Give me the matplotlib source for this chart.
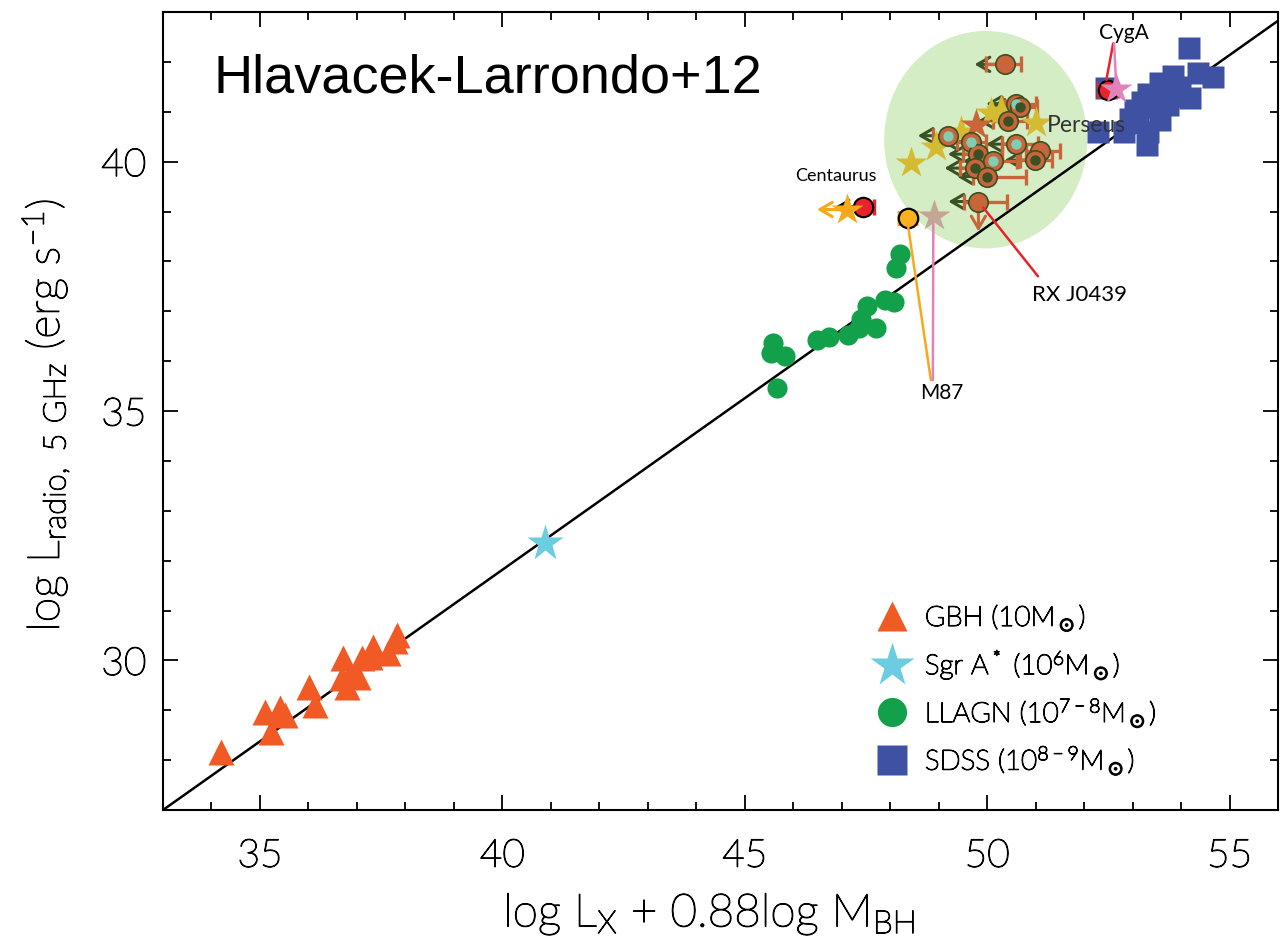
import matplotlib
matplotlib.use("Agg")
import matplotlib.pyplot as plt
import matplotlib.patheffects as pe
from matplotlib.patches import Ellipse
from matplotlib.lines import Line2D
from matplotlib.ticker import MultipleLocator
import numpy as np

plt.rcParams["font.family"] = ["Lato", "DejaVu Sans"]
plt.rcParams["mathtext.default"] = "regular"

# ---------------- data ----------------
# Galactic black holes (10 Msun)
gbh_x = [34.19, 35.10, 35.23, 35.41, 35.52, 36.01, 36.13, 36.72, 36.69, 36.79,
         36.86, 37.03, 37.10, 37.34, 37.27, 37.65, 37.82, 37.79]
gbh_y = [28.17, 28.97, 28.57, 29.04, 28.90, 29.46, 29.10, 30.04, 29.64, 29.47,
         29.71, 29.67, 30.04, 30.27, 30.07, 30.14, 30.51, 30.38]

# Sgr A*
sgra_x = [40.87]
sgra_y = [32.35]

# Low-luminosity AGN
llagn_x = [45.59, 45.54, 45.83, 45.66, 46.50, 46.74, 47.12, 47.36, 47.39, 47.53,
           47.71, 47.90, 48.07, 48.13, 48.20]
llagn_y = [36.36, 36.16, 36.10, 35.46, 36.42, 36.49, 36.52, 36.67, 36.85, 37.10,
           36.67, 37.23, 37.19, 37.86, 38.14]

# SDSS quasars
sdss_x = [52.28, 52.45, 52.83, 52.95, 53.04, 53.11, 53.29, 53.32, 53.32, 53.45,
          53.56, 53.56, 53.73, 53.83, 53.84, 53.97, 54.18, 54.17, 54.35, 54.66,
          53.20, 53.60]
sdss_y = [40.60, 41.47, 40.60, 40.85, 41.03, 40.77, 40.34, 41.36, 40.60, 41.10,
          40.83, 41.58, 41.13, 41.71, 41.31, 41.50, 41.28, 42.28, 41.78, 41.69,
          41.20, 41.40]

# Brightest cluster galaxies (Hlavacek-Larrondo+12)
bcg_x = [50.36, 50.60, 50.67, 50.43, 50.60, 51.10, 50.98, 49.67, 49.19, 49.81,
         50.12, 49.74, 50.00, 49.82]
bcg_y = [41.95, 41.16, 41.10, 40.82, 40.35, 40.22, 40.03, 40.40, 40.52, 40.15,
         40.01, 39.87, 39.70, 39.20]
bcg_core = ["solid", "teal", "dark", "dark", "teal", "solid", "dark", "teal",
            "teal", "dark", "teal", "dark", "dark", "solid"]
bcg_err_lo = [0.38, 0.30, 0.30, 0.30, 0.30, 0.30, 0.30, 0.30, 0.30, 0.30,
              0.30, 0.30, 0.30, 0.30]
bcg_err_hi = [0.34, 0.40, 0.35, 0.40, 0.45, 0.40, 0.35, 0.30, 0.30, 0.50,
              0.50, 0.40, 0.80, 0.58]
bcg_xlimit = [True, True, True, True, True, False, True, True, True, True,
              True, True, True, True]
bcg_ylimit = [False] * 13 + [True]

# Star symbols in the cluster sample
ystar_x = [48.43, 48.94, 49.46, 50.08, 51.01, 50.29]
ystar_y = [39.98, 40.30, 40.60, 40.97, 40.77, 41.02]
sstar_x = [49.77]
sstar_y = [40.74]

# Named sources
cen_circle = (47.43, 39.10)
cen_star = (47.11, 39.04)
m87_circle = (48.36, 38.87)
m87_star = (48.91, 38.90)
cyga_circle = (52.49, 41.44)
cyga_star = (52.66, 41.45)

# Fundamental-plane relation
fp_slope = 0.688
fp_intercept = 4.296

# ---------------- colours ----------------
c_gbh = "#F15A24"
c_sgra = "#6CCCE0"
c_llagn = "#13A04A"
c_sdss = "#3F51A3"
c_sienna = "#C8653A"
c_dkgreen = "#3A5124"
c_teal = "#7FCDB3"
c_gold = "#D4BC32"
c_orange = "#F7A81B"
c_red = "#E8232A"
c_pink = "#E083BA"
c_tan = "#C4A596"
c_blob = "#D5EDC5"

# thin geometric lettering, thickened slightly so strokes stay solid black
thin = dict(fontweight="light",
            path_effects=[pe.withStroke(linewidth=0.9, foreground="black")])

# ---------------- figure ----------------
fig = plt.figure(figsize=(12.85, 9.36), dpi=100)
ax = fig.add_axes([163 / 1285, 126 / 936, 1115 / 1285, 798 / 936])
ax.set_xlim(33, 56)
ax.set_ylim(27, 43)

ax.add_patch(Ellipse((49.97, 40.44), 4.19, 4.36, facecolor=c_blob,
                     edgecolor="none", zorder=1))

xx = np.array(ax.get_xlim())
ax.plot(xx, fp_slope * xx + fp_intercept, color="black", lw=1.8, zorder=2)

ax.plot(gbh_x, gbh_y, "^", ms=19, color=c_gbh, mec="none", zorder=3)
ax.plot(sgra_x, sgra_y, "*", ms=28, color=c_sgra, mec="none", zorder=3)
ax.plot(llagn_x, llagn_y, "o", ms=14.5, color=c_llagn, mec="none", zorder=3)
ax.plot(sdss_x, sdss_y, "s", ms=16, color=c_sdss, mec="none", zorder=3)

# cluster sample
head = "->,head_length=0.55,head_width=0.32"
arrow_len = 0.62
for x, y, lim, ylim_ in zip(bcg_x, bcg_y, bcg_xlimit, bcg_ylimit):
    if lim:
        ax.annotate("", xy=(x - arrow_len, y), xytext=(x, y),
                    arrowprops=dict(arrowstyle=head, mutation_scale=16,
                                    color=c_dkgreen, lw=2.2, shrinkA=0, shrinkB=0),
                    zorder=4)
    if ylim_:
        ax.annotate("", xy=(x, y - 0.6), xytext=(x, y),
                    arrowprops=dict(arrowstyle=head, mutation_scale=16,
                                    color=c_sienna, lw=2.2, shrinkA=0, shrinkB=0),
                    zorder=4)
ax.errorbar(bcg_x, bcg_y, xerr=[bcg_err_lo, bcg_err_hi], fmt="none",
            ecolor=c_sienna, elinewidth=2.4, capsize=6, capthick=2.4, zorder=4)

ax.plot(ystar_x, ystar_y, "*", ms=24, color=c_gold, mec="none", zorder=5)
ax.plot(sstar_x, sstar_y, "*", ms=24, color=c_sienna, mec="none", zorder=5)

ax.plot(bcg_x, bcg_y, "o", ms=14, mfc=c_sienna, mec=c_dkgreen, mew=1.2, zorder=6)
for x, y, core in zip(bcg_x, bcg_y, bcg_core):
    if core != "solid":
        ax.plot(x, y, "o", ms=7.5, mfc=c_teal if core == "teal" else c_dkgreen,
                mec="none", zorder=7)

# Centaurus
ax.annotate("", xy=(cen_star[0] - 0.62, cen_star[1]), xytext=cen_star,
            arrowprops=dict(arrowstyle=head, mutation_scale=16,
                            color=c_orange, lw=2.2, shrinkA=0, shrinkB=0), zorder=5)
ax.annotate("", xy=(cen_circle[0] - 0.55, cen_circle[1]), xytext=cen_circle,
            arrowprops=dict(arrowstyle=head, mutation_scale=14,
                            color="black", lw=1.8, shrinkA=0, shrinkB=0), zorder=5)
ax.errorbar([cen_circle[0]], [cen_circle[1]], xerr=[[0.0], [0.24]], fmt="none",
            ecolor=c_red, elinewidth=2.4, capsize=6, capthick=2.4, zorder=5)
ax.plot(*cen_circle, "o", ms=14, mfc=c_red, mec="black", mew=1.5, zorder=6)
ax.plot(*cen_star, "*", ms=24, color=c_orange, mec="none", zorder=7)

# M87
ax.errorbar([m87_circle[0]], [m87_circle[1]], xerr=[[0.21], [0.21]], fmt="none",
            ecolor=c_orange, elinewidth=11, capsize=0, zorder=5)
ax.plot(*m87_circle, "o", ms=14, mfc="#F9B11E", mec="black", mew=1.6, zorder=6)
ax.plot(*m87_star, "*", ms=24, color=c_tan, mec="none", zorder=6)

# Cygnus A
ax.errorbar([cyga_circle[0]], [cyga_circle[1]], xerr=[[0.21], [0.21]], fmt="none",
            ecolor=c_red, elinewidth=2.4, capsize=6, capthick=2.4, zorder=5)
ax.plot(*cyga_circle, "o", ms=14, mfc=c_red, mec="black", mew=1.5, zorder=6)
ax.plot(*cyga_star, "*", ms=24, color=c_pink, mec="none", zorder=7)


# labels with leader lines
def leader(p0, p1, color):
    ax.annotate("", xy=p1, xytext=p0,
                arrowprops=dict(arrowstyle="-", color=color, lw=1.8,
                                shrinkA=0, shrinkB=0), zorder=8)


ax.text(46.88, 39.71, "Centaurus", fontsize=13, ha="center", va="center", zorder=9)
ax.text(52.83, 42.57, "CygA", fontsize=15, ha="center", va="center", zorder=9)
leader((52.60, 42.37), (cyga_circle[0] - 0.03, cyga_circle[1] + 0.2), c_red)
leader((52.62, 42.37), (cyga_star[0], cyga_star[1] + 0.1), c_pink)
ax.text(51.24, 40.72, "Perseus", fontsize=16.5, ha="left", va="center",
        color="#333333", zorder=9)
ax.text(51.90, 37.33, "RX J0439", fontsize=16, ha="center", va="center", zorder=9)
leader((51.05, 37.70), (bcg_x[-1] + 0.1, bcg_y[-1] - 0.12), c_red)
ax.text(49.07, 35.36, "M87", fontsize=15, ha="center", va="center", zorder=9)
leader((48.84, 35.62), (m87_circle[0], m87_circle[1] - 0.1), c_orange)
leader((48.88, 35.62), (m87_star[0] - 0.02, m87_star[1] - 0.15), c_pink)

ax.text(0.045, 0.917, "Hlavacek-Larrondo+12", transform=ax.transAxes,
        fontsize=39, family="Liberation Sans", ha="left", va="center")

# legend
handles = [
    Line2D([], [], ls="none", marker="^", ms=21, color=c_gbh, mec="none"),
    Line2D([], [], ls="none", marker="*", ms=33, color=c_sgra, mec="none"),
    Line2D([], [], ls="none", marker="o", ms=21, color=c_llagn, mec="none"),
    Line2D([], [], ls="none", marker="s", ms=21, color=c_sdss, mec="none"),
]
labels = [r"GBH (10M$_\odot$)", r"Sgr A$^*$ (10$^6$M$_\odot$)",
          r"LLAGN (10$^{7-8}$M$_\odot$)", r"SDSS (10$^{8-9}$M$_\odot$)"]
leg = ax.legend(handles, labels, loc="lower left", bbox_to_anchor=(0.616, 0.010),
                frameon=False, handlelength=1.2, handletextpad=0.6,
                labelspacing=0.53, prop={"size": 20, "weight": "light"})
for t in leg.get_texts():
    t.set_path_effects(thin["path_effects"])

# axes styling
for s in ax.spines.values():
    s.set_linewidth(1.5)
ax.xaxis.set_major_locator(MultipleLocator(5))
ax.xaxis.set_minor_locator(MultipleLocator(1))
ax.yaxis.set_major_locator(MultipleLocator(5))
ax.yaxis.set_minor_locator(MultipleLocator(1))
ax.tick_params(which="both", direction="in", top=True, right=True, width=1.3)
ax.tick_params(which="major", length=11, labelsize=28, pad=12)
ax.tick_params(axis="x", which="major", pad=20)
ax.tick_params(which="minor", length=6)
for lab in ax.get_xticklabels() + ax.get_yticklabels():
    lab.set_fontweight("light")
    lab.set_path_effects(thin["path_effects"])

ax.set_xlabel(r"log L$_X$ + 0.88log M$_{BH}$", fontsize=33, **thin)
ax.xaxis.set_label_coords(0.49, -0.102)
ax.set_ylabel(r"log L$_{radio,\ 5\ GHz}$ (erg s$^{-1}$)", fontsize=32, **thin)
ax.yaxis.set_label_coords(-0.082, 0.495)

fig.savefig("out.png", dpi=100)
